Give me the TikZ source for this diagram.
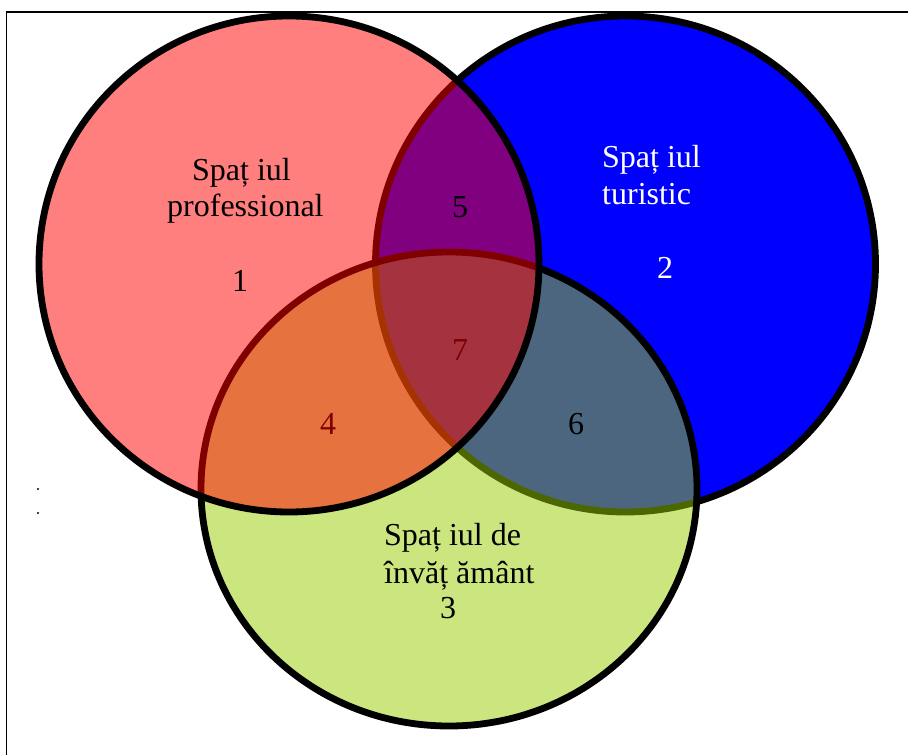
\documentclass[tikz,border=0pt]{standalone}
\usepackage{fontspec}
\setmainfont{Liberation Serif}
\definecolor{vblue}{RGB}{0,0,255}
\definecolor{vred}{RGB}{255,0,0}
\definecolor{vgreen}{RGB}{153,204,0}
\definecolor{vdark}{RGB}{128,0,0}
\tikzset{
  setcircle/.style={line width=6.8pt, draw=black},
  lbl/.style={inner sep=0pt, anchor=base west, font=\fontsize{32}{36}\selectfont},
  num/.style={inner sep=0pt, anchor=base, font=\fontsize{32}{36}\selectfont},
}
\begin{document}
\begin{tikzpicture}[x=1pt,y=-1pt]
\useasboundingbox (0,0) rectangle (908,755);
\fill[white] (0,0) rectangle (908,755);
% frame (cropped on right and bottom)
\draw[line width=1.5pt] (6.5,755) -- (6.5,12) -- (908,12);
% circles: blue opaque, green and red half transparent
\draw[setcircle, fill=vblue] (625.5,264) ellipse [x radius=250, y radius=248];
\draw[setcircle, fill=vgreen, fill opacity=0.5] (449,489) ellipse [x radius=248, y radius=237];
\draw[setcircle, fill=vred, fill opacity=0.5] (289,264) ellipse [x radius=250, y radius=248];
% labels
\node[lbl] (p1) at (192,180) {Spaț\ iul};
\node[lbl] (p2) at (167,216) {professional};
\node[num] (n1) at (240,291) {1};
\node[lbl, text=white] (t1) at (602,167) {Spaț\ iul};
\node[lbl, text=white] (t2) at (602,204) {turistic};
\node[num, text=white] (n2) at (665,278) {2};
\node[lbl] (g1) at (384,545) {Spaț\ iul de};
\node[lbl] (g2) at (384,583) {învăț\ ământ};
\node[num] (n3) at (448,618) {3};
\node[num] (n5) at (460,217) {5};
\node[num, text=vdark] (n7) at (460,360) {7};
\node[num, text=vdark] (n4) at (328,434) {4};
\node[num] (n6) at (576,434) {6};
% stray dots at left
\fill (38,489) circle [radius=1.1];
\fill (38,513) circle [radius=1.1];
\end{tikzpicture}
\end{document}
